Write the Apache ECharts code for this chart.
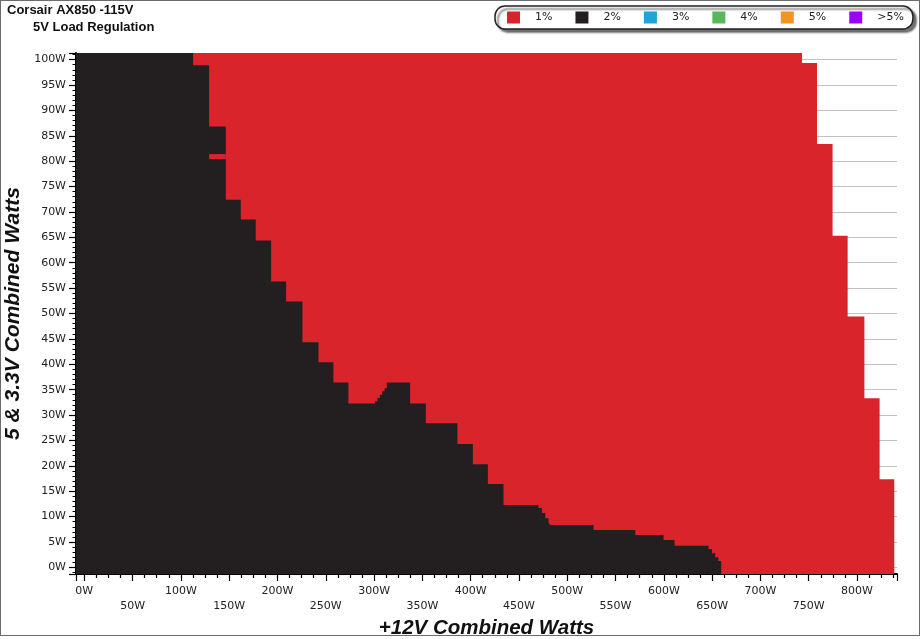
<!DOCTYPE html>
<html><head><meta charset="utf-8">
<script src="https://cdn.jsdelivr.net/npm/echarts@6/dist/echarts.min.js"></script>
<style>
html,body{margin:0;padding:0;background:#fff;}
#chart{position:absolute;left:0;top:0;width:924px;height:639px;}
#frame{position:absolute;left:0;top:0;width:918px;height:634px;border:1px solid #6b6b6b;pointer-events:none;}
</style></head><body>
<div id="chart"></div><div id="frame"></div>
<script>
// ---- data (watts) ----
const legendNames = ['1%', '2%', '3%', '4%', '5%', '>5%'];
const legendColors = ['#d8242a', '#231f20', '#1ea4d8', '#58b65b', '#f0951f', '#9b00ff'];

// 1% region: outer (top/right) boundary, step edges along +12V axis and the 5V level of each step
const redEdgesW = [-8.6, 743.0, 758.6, 774.7, 790.3, 807.6, 823.4, 838.6];
const redLevelsW = [101.3, 99.35, 83.4, 65.3, 49.4, 33.3, 17.35];

// 2% region: upper boundary
const blackEdgesW = [-8.6, 112.6, 129.2, 146.5, 162.0, 177.5, 193.4, 208.9, 225.8, 242.4, 257.9, 273.4,
  301.1, 303.5, 306.0, 308.4, 310.8, 313.2, 337.3, 353.6, 386.3, 402.3, 417.8, 434.0,
  470.2, 473.7, 477.2, 480.6, 482.3, 527.2, 570.4, 599.7, 611.1, 646.3, 649.8, 653.2, 656.3, 659.4];
const blackLevelsW = [101.3, 98.9, 86.85, 72.4, 68.5, 64.4, 56.3, 52.35, 44.35, 40.4, 36.4, 32.3,
  32.7, 33.35, 34.0, 34.7, 35.3, 36.4, 32.3, 28.4, 24.3, 20.3, 16.4, 12.3,
  11.7, 10.7, 9.7, 8.9, 8.35, 7.35, 6.37, 5.38, 4.26, 3.6, 2.8, 2.0, 1.24];

// small 1% pocket inside the 2% region
const pocketEdgesW = [129.2, 146.5];
const pocketLowW = 80.4;
const pocketHighW = 81.4;

const xRangeW = [-8.6, 841.4];
const yRangeW = [-1.3, 101.3];

function stepData(edges, levels) {
  const pts = [];
  for (let i = 0; i < levels.length; i++) pts.push([edges[i], levels[i]]);
  pts.push([edges[edges.length - 1], levels[levels.length - 1]]);
  return pts;
}

const chart = echarts.init(document.getElementById('chart'), null, {renderer: 'canvas'});
const axisFont = {fontFamily: 'DejaVu Sans', fontSize: 11, color: '#222'};
const nameFontX = {fontFamily: 'Liberation Sans', fontSize: 20.5, fontWeight: 'bold', fontStyle: 'italic', color: '#111'};
const nameFontY = {fontFamily: 'Liberation Sans', fontSize: 21, fontWeight: 'bold', fontStyle: 'italic', color: '#111'};

const option = {
  animation: false,
  backgroundColor: 'transparent',
  title: [
    {text: 'Corsair AX850 -115V', left: 7, top: 3.5, padding: 0,
     textStyle: {fontFamily: 'Liberation Sans', fontSize: 13, fontWeight: 'bold', color: '#111'}},
    {text: '5V Load Regulation', left: 33, top: 21, padding: 0,
     textStyle: {fontFamily: 'Liberation Sans', fontSize: 13, fontWeight: 'bold', color: '#111'}}
  ],
  legend: {
    left: 495, top: 6,
    padding: [5.5, 9, 5.5, 12],
    itemWidth: 13, itemHeight: 12, itemGap: 23,
    icon: 'rect',
    backgroundColor: '#fff', borderColor: '#222', borderWidth: 1.5, borderRadius: 10,
    shadowColor: 'rgba(0,0,0,0.55)', shadowBlur: 2, shadowOffsetX: 3, shadowOffsetY: 3,
    textStyle: {fontFamily: 'DejaVu Sans', fontSize: 11, color: '#222', padding: [0, 0, 0, 10]},
    data: legendNames.map((n, i) => ({name: n, icon: 'rect', itemStyle: {color: legendColors[i]}}))
  },
  grid: {left: 76, right: 27, top: 53, bottom: 65, containLabel: false, outerBoundsMode: 'none'},
  xAxis: {
    type: 'value', min: xRangeW[0], max: xRangeW[1], splitNumber: 17, minInterval: 50, maxInterval: 50,
    axisLine: {onZero: false, lineStyle: {color: '#000', width: 2}},
    axisTick: {show: true, length: 7, lineStyle: {color: '#000', width: 1.2}},
    minorTick: {show: true, splitNumber: 4, length: 4, lineStyle: {color: '#000', width: 1.2}},
    splitLine: {show: false},
    axisLabel: Object.assign({}, axisFont, {
      margin: 10, lineHeight: 14.5, showMinLabel: false, showMaxLabel: false,
      formatter: v => (Math.round(v) % 100 === 0 ? v + 'W' : '\n' + v + 'W')
    }),
    name: '+12V Combined Watts', nameLocation: 'middle', nameGap: 37, nameTextStyle: nameFontX
  },
  yAxis: {
    type: 'value', min: yRangeW[0], max: yRangeW[1], splitNumber: 20, minInterval: 5, maxInterval: 5,
    axisLine: {onZero: false, lineStyle: {color: '#000', width: 2}},
    axisTick: {show: true, length: 7, lineStyle: {color: '#000', width: 1.2}},
    minorTick: {show: true, splitNumber: 5, length: 3.5, lineStyle: {color: '#000', width: 1}},
    splitLine: {show: true, showMinLine: false, showMaxLine: false, lineStyle: {color: '#c2c2c2', width: 1}},
    axisLabel: Object.assign({}, axisFont, {margin: 10, showMinLabel: false, showMaxLabel: false, formatter: v => v + 'W'}),
    name: '5 & 3.3V Combined Watts', nameLocation: 'middle', nameGap: 43, nameTextStyle: nameFontY
  },
  series: [
    {name: '1%', type: 'line', step: 'end', symbol: 'none', color: legendColors[0],
     lineStyle: {width: 0}, areaStyle: {color: legendColors[0], opacity: 1, origin: 'start'},
     data: stepData(redEdgesW, redLevelsW)},
    {name: '2%', type: 'line', step: 'end', symbol: 'none', color: legendColors[1],
     lineStyle: {width: 0}, areaStyle: {color: legendColors[1], opacity: 1, origin: 'start'},
     data: stepData(blackEdgesW, blackLevelsW)},
    {name: '1%', type: 'line', step: 'end', symbol: 'none', color: legendColors[0],
     lineStyle: {width: 0}, areaStyle: {color: legendColors[0], opacity: 1, origin: pocketLowW},
     data: pocketEdgesW.map(x => [x, pocketHighW])},
    {name: '3%', type: 'line', data: [], color: legendColors[2]},
    {name: '4%', type: 'line', data: [], color: legendColors[3]},
    {name: '5%', type: 'line', data: [], color: legendColors[4]},
    {name: '>5%', type: 'line', data: [], color: legendColors[5]}
  ]
};
chart.setOption(option);
</script>
</body></html>
